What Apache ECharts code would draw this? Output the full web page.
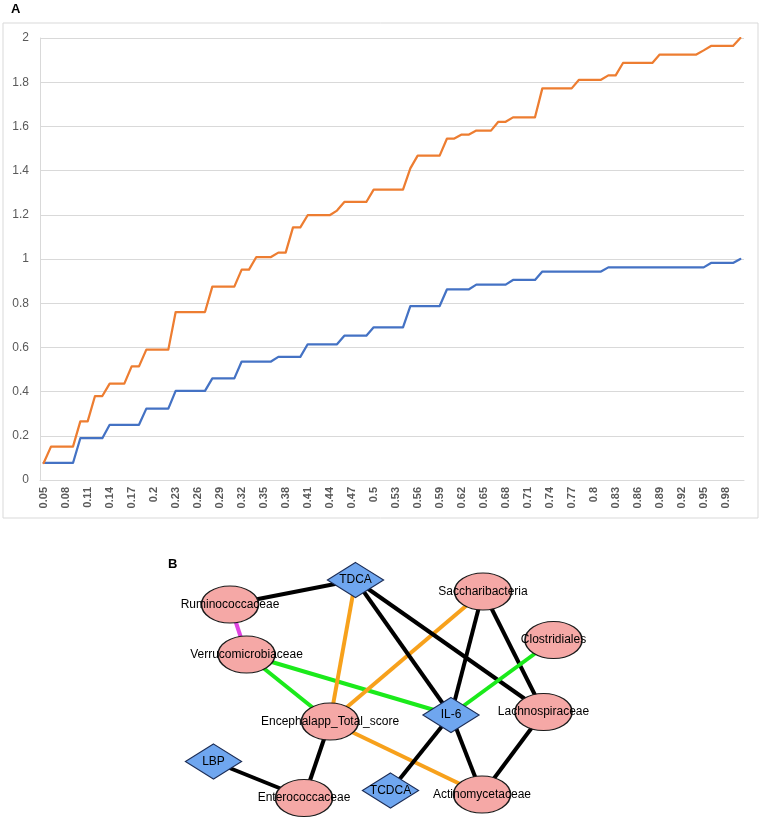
<!DOCTYPE html>
<html>
<head>
<meta charset="utf-8">
<script src="https://cdn.jsdelivr.net/npm/echarts@6/dist/echarts.min.js"></script>
<style>html,body{margin:0;padding:0;background:#fff}#main{width:760px;height:821px}</style>
</head>
<body>
<div id="main"></div>
<script>
// ---------- Panel A data ----------
const categories = ['0.05','0.06','0.07','0.08','0.09','0.1','0.11','0.12','0.13','0.14',
  '0.15','0.16','0.17','0.18','0.19','0.2','0.21','0.22','0.23','0.24',
  '0.25','0.26','0.27','0.28','0.29','0.3','0.31','0.32','0.33','0.34',
  '0.35','0.36','0.37','0.38','0.39','0.4','0.41','0.42','0.43','0.44',
  '0.45','0.46','0.47','0.48','0.49','0.5','0.51','0.52','0.53','0.54',
  '0.55','0.56','0.57','0.58','0.59','0.6','0.61','0.62','0.63','0.64',
  '0.65','0.66','0.67','0.68','0.69','0.7','0.71','0.72','0.73','0.74',
  '0.75','0.76','0.77','0.78','0.79','0.8','0.81','0.82','0.83','0.84',
  '0.85','0.86','0.87','0.88','0.89','0.9','0.91','0.92','0.93','0.94',
  '0.95','0.96','0.97','0.98','0.99','1'];

const blueValues = [0.077,0.077,0.077,0.077,0.077,0.189,0.189,0.189,0.189,0.25,
  0.25,0.25,0.25,0.25,0.323,0.323,0.323,0.323,0.403,0.403,
  0.403,0.403,0.403,0.46,0.46,0.46,0.46,0.536,0.536,0.536,
  0.536,0.536,0.557,0.557,0.557,0.557,0.614,0.614,0.614,0.614,
  0.614,0.653,0.653,0.653,0.653,0.691,0.691,0.691,0.691,0.691,
  0.787,0.787,0.787,0.787,0.787,0.863,0.863,0.863,0.863,0.884,
  0.884,0.884,0.884,0.884,0.905,0.905,0.905,0.905,0.943,0.943,
  0.943,0.943,0.943,0.943,0.943,0.943,0.943,0.962,0.962,0.962,
  0.962,0.962,0.962,0.962,0.962,0.962,0.962,0.962,0.962,0.962,
  0.962,0.982,0.982,0.982,0.982,1];

const orangeValues = [0.077,0.151,0.151,0.151,0.151,0.265,0.265,0.38,0.38,0.436,
  0.436,0.436,0.514,0.514,0.59,0.59,0.59,0.59,0.76,0.76,
  0.76,0.76,0.76,0.875,0.875,0.875,0.875,0.952,0.952,1.009,
  1.009,1.009,1.029,1.029,1.143,1.143,1.198,1.198,1.198,1.198,
  1.219,1.258,1.258,1.258,1.258,1.314,1.314,1.314,1.314,1.314,
  1.41,1.468,1.468,1.468,1.468,1.545,1.545,1.563,1.563,1.581,
  1.581,1.581,1.621,1.621,1.641,1.641,1.641,1.641,1.772,1.772,
  1.772,1.772,1.772,1.811,1.811,1.811,1.811,1.831,1.831,1.887,
  1.887,1.887,1.887,1.887,1.925,1.925,1.925,1.925,1.925,1.925,
  1.944,1.964,1.964,1.964,1.964,2];

// ---------- Panel B data ----------
const nodeNames = ['TDCA','Ruminococcaceae','Verrucomicrobiaceae','Saccharibacteria','Clostridiales',
  'Encephalapp_Total_score','IL-6','Lachnospiraceae','LBP','Enterococcaceae','TCDCA','Actinomycetaceae'];
const nodeKinds = ['metabolite','taxon','taxon','taxon','taxon','taxon','metabolite','taxon','metabolite','taxon','metabolite','taxon'];
// network layout coordinates (layout units of panel B)
const nodeX = [355.5,230,246.5,483,553.5,330,451,543.5,213.5,304,390.5,482];
const nodeY = [580,604.5,654.5,591.5,640,721.5,715,712,761.5,798,790.5,794.5];

const edgeSource = ['TDCA','Ruminococcaceae','Verrucomicrobiaceae','Verrucomicrobiaceae','TDCA',
  'Encephalapp_Total_score','Encephalapp_Total_score','TDCA','TDCA','Saccharibacteria','Saccharibacteria',
  'Clostridiales','IL-6','IL-6','Lachnospiraceae','Encephalapp_Total_score','LBP'];
const edgeTarget = ['Ruminococcaceae','Verrucomicrobiaceae','IL-6','Encephalapp_Total_score','Encephalapp_Total_score',
  'Saccharibacteria','Actinomycetaceae','IL-6','Lachnospiraceae','IL-6','Lachnospiraceae',
  'IL-6','TCDCA','Actinomycetaceae','Actinomycetaceae','Enterococcaceae','Enterococcaceae'];
const edgeKind = ['black','magenta','green','green','orange',
  'orange','orange','black','black','black','black',
  'green','black','black','black','black','black'];

// ---------- styles ----------
const edgeColors = {black:'#000000', orange:'#f7a11c', green:'#1bea1b', magenta:'#e044e0'};
const ellipsePath = 'path://M0,50A50,50,0,1,1,100,50A50,50,0,1,1,0,50Z';
const kindStyle = {
  taxon: {symbol: ellipsePath, symbolSize: [57, 37], itemStyle: {color:'#f5a8a6', borderColor:'#1a1a1a', borderWidth:1.3}},
  metabolite: {symbol: 'diamond', symbolSize: [56, 35], itemStyle: {color:'#6fa6ef', borderColor:'#1b2c55', borderWidth:1.3}}
};

const graphNodes = nodeNames.map((n, i) => Object.assign({name: n, value: [nodeX[i], nodeY[i]]}, kindStyle[nodeKinds[i]]));
const graphLinks = edgeSource.map((s, i) => ({source: s, target: edgeTarget[i], lineStyle: {color: edgeColors[edgeKind[i]], width: 4, opacity: 1}}));

const chart = echarts.init(document.getElementById('main'), null, {renderer: 'canvas'});
const font = '"Liberation Sans", Arial, sans-serif';

chart.setOption({
  animation: false,
  backgroundColor: '#ffffff',
  graphic: [
    {type: 'rect', shape: {x: 3, y: 23, width: 755, height: 495}, style: {fill: 'none', stroke: '#d9d9d9', lineWidth: 1}, z: 0},
    {type: 'text', x: 11, y: 3, style: {text: 'A', font: 'bold 13px ' + font, fill: '#000', verticalAlign: 'top'}},
    {type: 'text', x: 168, y: 558, style: {text: 'B', font: 'bold 13px ' + font, fill: '#000', verticalAlign: 'top'}}
  ],
  grid: [
    {left: 40, top: 38, width: 704, height: 442},
    {left: 0, top: 0, right: 0, bottom: 0}
  ],
  xAxis: [
    {
      type: 'category', gridIndex: 0, data: categories, boundaryGap: true,
      axisLine: {show: true, lineStyle: {color: '#d9d9d9', width: 1}},
      axisTick: {show: false},
      axisLabel: {interval: 2, rotate: 90, margin: 7, color: '#595959', fontSize: 11, fontWeight: 'bold', fontFamily: font},
      splitLine: {show: false}
    },
    {type: 'value', gridIndex: 1, min: 0, max: 760, show: false}
  ],
  yAxis: [
    {
      type: 'value', gridIndex: 0, min: 0, max: 2, interval: 0.2,
      axisLine: {show: true, lineStyle: {color: '#d9d9d9', width: 1}},
      axisTick: {show: false},
      axisLabel: {margin: 11, color: '#595959', fontSize: 12, fontFamily: font},
      splitLine: {show: true, lineStyle: {color: '#d9d9d9', width: 1}}
    },
    {type: 'value', gridIndex: 1, min: 0, max: 821, inverse: true, show: false}
  ],
  series: [
    {
      name: 'Series1', type: 'line', xAxisIndex: 0, yAxisIndex: 0, data: blueValues,
      showSymbol: false, symbol: 'none',
      lineStyle: {color: '#4472c4', width: 2.25, join: 'round', cap: 'round'}, z: 3
    },
    {
      name: 'Series2', type: 'line', xAxisIndex: 0, yAxisIndex: 0, data: orangeValues,
      showSymbol: false, symbol: 'none',
      lineStyle: {color: '#ed7d31', width: 2.25, join: 'round', cap: 'round'}, z: 4
    },
    {
      type: 'graph', coordinateSystem: 'cartesian2d', xAxisIndex: 1, yAxisIndex: 1,
      layout: 'none', roam: false,
      data: graphNodes, links: graphLinks,
      label: {show: true, position: 'inside', color: '#000', fontSize: 12, fontFamily: font},
      emphasis: {disabled: true},
      z: 5
    }
  ]
});
</script>
</body>
</html>
